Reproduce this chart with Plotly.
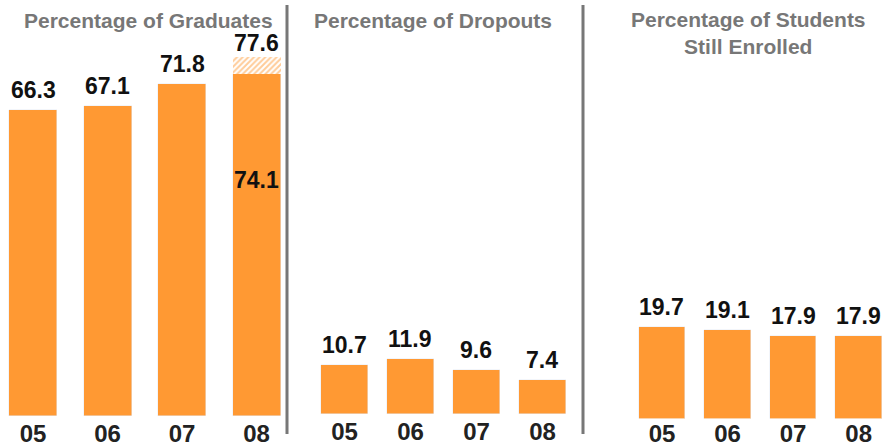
import plotly.graph_objects as go

years = ["05", "06", "07", "08"]
graduates = [66.3, 67.1, 71.8, 74.1]
graduates_08_with_extra = 77.6
dropouts = [10.7, 11.9, 9.6, 7.4]
enrolled = [19.7, 19.1, 17.9, 17.9]
titles = ["Percentage of Graduates", "Percentage of Dropouts",
          "Percentage of Students<br>Still Enrolled"]

ORANGE = "#FF9933"
GRAY = "#777777"
FONT = "Liberation Sans, Arial, sans-serif"
W, H = 887, 447
PX = 4.62  # pixels per percentage point

fig = go.Figure()

# Panel 1: graduates
fig.add_trace(go.Bar(x=years, y=graduates, marker_color=ORANGE, width=0.644,
                     xaxis="x", yaxis="y", showlegend=False))
fig.add_trace(go.Bar(x=[years[-1]], y=[round(graduates_08_with_extra - graduates[-1], 1)],
                     base=[graduates[-1]], width=0.644,
                     marker=dict(color="white", line=dict(width=0),
                                 pattern=dict(shape="/", fgcolor=ORANGE, bgcolor="white",
                                              size=4, solidity=0.5)),
                     xaxis="x", yaxis="y", showlegend=False))
# Panel 2: dropouts
fig.add_trace(go.Bar(x=years, y=dropouts, marker_color=ORANGE, width=0.712,
                     xaxis="x2", yaxis="y2", showlegend=False))
# Panel 3: still enrolled
fig.add_trace(go.Bar(x=years, y=enrolled, marker_color=ORANGE, width=0.712,
                     xaxis="x3", yaxis="y3", showlegend=False))

annotations = []
lab_font = dict(family=FONT, size=23, color="#111111", weight="bold")
for xa, ya, vals in (("x", "y", graduates[:-1]), ("x2", "y2", dropouts), ("x3", "y3", enrolled)):
    for i, v in enumerate(vals):
        annotations.append(dict(x=i, y=v, xref=xa, yref=ya, text=f"{v:.1f}", showarrow=False,
                                yanchor="bottom", yshift=5, font=lab_font))
last = len(years) - 1
annotations.append(dict(x=last, y=graduates_08_with_extra, xref="x", yref="y",
                        text=f"{graduates_08_with_extra:.1f}", showarrow=False,
                        yanchor="bottom", yshift=-1, font=lab_font))
annotations.append(dict(x=last, y=graduates[-1], xref="x", yref="y",
                        text=f"{graduates[-1]:.1f}", showarrow=False,
                        yanchor="top", yshift=-91, font=lab_font))

title_font = dict(family=FONT, size=21, color=GRAY, weight="bold")
for tx, t in zip((148, 433, 748), titles):
    annotations.append(dict(x=tx / W, y=1 - (33 if "<br>" in t else 20) / H, xref="paper", yref="paper",
                            text=t, showarrow=False, xanchor="center", yanchor="middle",
                            font=title_font))

shapes = []
for sx in (287, 583):
    shapes.append(dict(type="line", xref="paper", yref="paper", x0=sx / W, x1=sx / W,
                       y0=1 - 434 / H, y1=1 - 5 / H, line=dict(color=GRAY, width=3)))

tickfont = dict(family=FONT, size=24, color="#222222", weight="bold")
def xax(dom, rng, standoff=1):
    return dict(domain=[dom[0] / W, dom[1] / W], range=rng, type="category",
                showgrid=False, zeroline=False, showline=False, ticks="",
                tickfont=tickfont, automargin=False, ticklabelstandoff=standoff)
def yax(base_px, anchor):
    return dict(domain=[(H - base_px) / H, 1], range=[0, base_px / PX], visible=False,
                anchor=anchor, fixedrange=True)

fig.update_layout(
    width=W, height=H, margin=dict(l=0, r=0, t=0, b=0),
    paper_bgcolor="white", plot_bgcolor="white", barmode="stack", bargap=0,
    xaxis=dict(**xax((0, 287), [-0.443, 3.409]), anchor="y"),
    xaxis2=dict(**xax((287, 583), [-0.871, 3.614]), anchor="y2"),
    xaxis3=dict(**xax((583, 887), [-1.2045, 3.432], standoff=-2), anchor="y3"),
    yaxis=yax(416, "x"), yaxis2=yax(414, "x2"), yaxis3=yax(418.5, "x3"),
    annotations=annotations, shapes=shapes, font=dict(family=FONT),
)
fig.write_html("out.html", config={"displayModeBar": False},
               post_script="document.body.style.margin='0';document.body.style.overflow='hidden';")
